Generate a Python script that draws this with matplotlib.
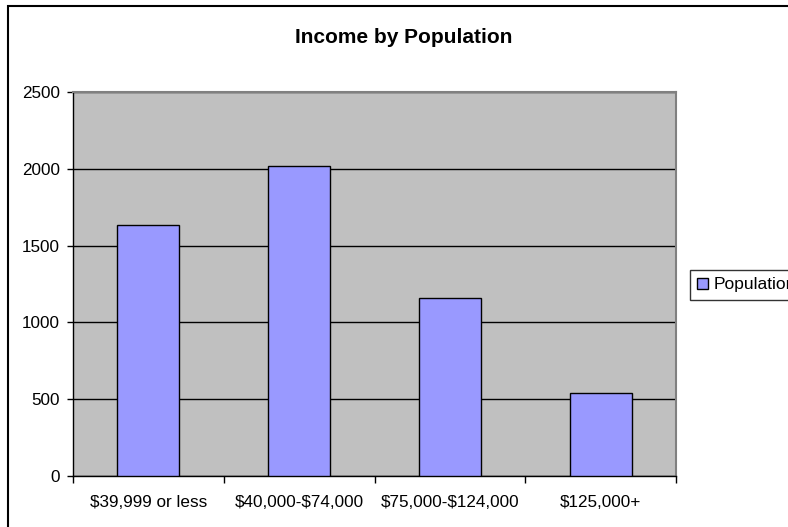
#!/usr/bin/env python3
import matplotlib

matplotlib.use("Agg")
import matplotlib.pyplot as plt
from matplotlib.patches import Rectangle


categories = ["$39,999 or less", "$40,000-$74,000", "$75,000-$124,000", "$125,000+"]
population = [1635, 2015, 1160, 540]
y_ticks = [0, 500, 1000, 1500, 2000, 2500]
series_name = "Population"
title = "Income by Population"

BAR_COLOR = "#9999FF"
PLOT_BG = "#C0C0C0"

plt.rcParams["font.family"] = ["Liberation Sans", "DejaVu Sans"]
plt.rcParams["text.parse_math"] = False  # dollar signs are literal here

fig = plt.figure(figsize=(7.88, 5.27), dpi=100)
ax = fig.add_axes([73 / 788, 51 / 527, 603 / 788, 384 / 527])
ax.set_facecolor(PLOT_BG)

xs = list(range(len(categories)))
ax.bar(xs, population, width=0.41, color=BAR_COLOR, edgecolor="black", linewidth=1.0,
       label=series_name, zorder=3)

ax.set_xlim(-0.5, len(categories) - 0.5)
ax.set_ylim(0, y_ticks[-1])
ax.set_yticks(y_ticks)
ax.set_yticklabels([str(v) for v in y_ticks], fontsize=12.3)
ax.yaxis.grid(True, color="black", linewidth=1.0, zorder=1)
ax.set_axisbelow(True)
ax.tick_params(axis="y", direction="out", length=4.5, width=1.0, pad=5)

# category boundaries get the tick marks, labels sit in between
ax.set_xticks([i - 0.5 for i in range(len(categories) + 1)])
ax.set_xticklabels([])
ax.set_xticks(xs, minor=True)
ax.set_xticklabels(categories, minor=True, fontsize=12.3)
ax.tick_params(axis="x", which="major", direction="out", length=5, width=1.0)
ax.tick_params(axis="x", which="minor", length=0, pad=14)

for side in ("left", "bottom"):
    ax.spines[side].set_color("black")
    ax.spines[side].set_linewidth(1.0)
for side in ("top", "right"):
    ax.spines[side].set_color("#808080")
    ax.spines[side].set_linewidth(1.5)

fig.text(404 / 788, 1 - 43 / 527, title, ha="center", va="baseline",
         fontsize=15, fontweight="bold")

# legend runs off the right edge, as in the original export
leg = fig.legend(loc="upper left", bbox_to_anchor=(690 / 788, 1 - 270 / 527),
                 fontsize=12.5, frameon=True, fancybox=False, edgecolor="black",
                 handlelength=0.6, handleheight=0.6, handletextpad=0.35,
                 borderpad=0.42, borderaxespad=0.0)
leg.get_frame().set_linewidth(1.0)

# chart area border, runs off the right and bottom edge
fig.patches.append(Rectangle((8 / 788, -0.05), 1.2, 1 - 6 / 527 + 0.05,
                             transform=fig.transFigure, fill=False,
                             edgecolor="black", linewidth=1.5, clip_on=False))

fig.savefig("out.png", dpi=100)
